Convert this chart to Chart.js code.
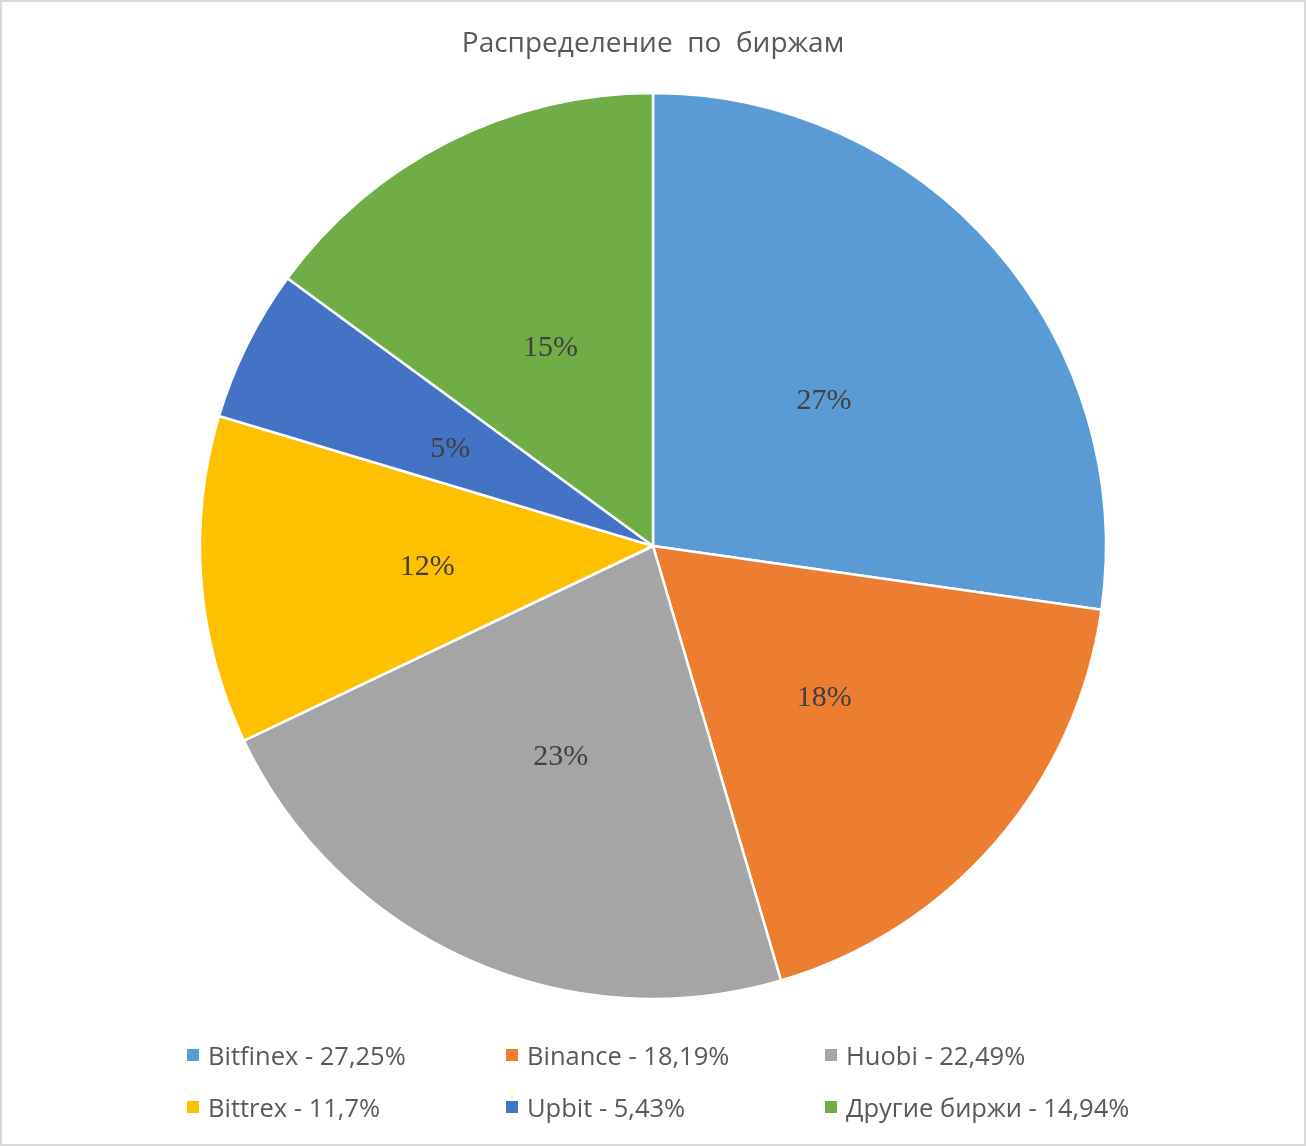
<!DOCTYPE html>
<html>
<head>
<meta charset="utf-8">
<script src="https://cdn.jsdelivr.net/npm/chart.js@4/dist/chart.umd.min.js"></script>
<style>
  html, body { margin: 0; padding: 0; background: #fff; }
  #wrap { position: relative; width: 1306px; height: 1146px; }
  #frame { position: absolute; left: 0; top: 0; width: 1306px; height: 1146px; box-sizing: border-box; border: 2px solid #d9d9d9; pointer-events: none; }
  #legend { position: absolute; left: 187px; top: 1029px; font-family: "Open Sans", sans-serif; font-size: 25.5px; color: #595959; }
  .row { display: flex; height: 52px; align-items: center; }
  .item { width: 319px; display: flex; align-items: center; white-space: nowrap; }
  .box { width: 12px; height: 12px; margin-right: 9px; flex: none; }
</style>
</head>
<body>
<div id="wrap">
  <canvas id="chart" width="1306" height="1146"></canvas>
  <div id="legend"></div>
  <div id="frame"></div>
</div>
<script>
const categories = ['Bitfinex - 27,25%', 'Binance - 18,19%', 'Huobi - 22,49%', 'Bittrex - 11,7%', 'Upbit - 5,43%', 'Другие биржи - 14,94%'];
const shares = [27.25, 18.19, 22.49, 11.7, 5.43, 14.94];
const pctLabels = ['27%', '18%', '23%', '12%', '5%', '15%'];
const colors = ['#5B9BD5', '#ED7D31', '#A5A5A5', '#FFC000', '#4472C4', '#70AD47'];

// percentage text in the middle of each slice
const sliceLabels = {
  id: 'sliceLabels',
  afterDatasetsDraw(chart) {
    const ctx = chart.ctx;
    const meta = chart.getDatasetMeta(0);
    ctx.save();
    ctx.font = '30px "Liberation Serif", serif';
    ctx.fillStyle = '#404040';
    ctx.textAlign = 'center';
    ctx.textBaseline = 'middle';
    meta.data.forEach((arc, i) => {
      const p = arc.tooltipPosition();
      ctx.fillText(pctLabels[i], p.x, p.y + 4);
    });
    ctx.restore();
  }
};

new Chart(document.getElementById('chart').getContext('2d'), {
  type: 'pie',
  data: {
    labels: categories,
    datasets: [{
      data: shares,
      backgroundColor: colors,
      borderColor: '#ffffff',
      borderWidth: 2.5
    }]
  },
  options: {
    responsive: false,
    animation: false,
    layout: { padding: { top: 0, bottom: 145.75, left: 0, right: 0 } },
    plugins: {
      legend: { display: false },
      tooltip: { enabled: false },
      title: {
        display: true,
        text: 'Распределение  по  биржам',
        color: '#595959',
        font: { family: '"Open Sans", sans-serif', size: 28, weight: 'normal' },
        padding: { top: 27, bottom: 31.15 }
      }
    }
  },
  plugins: [sliceLabels]
});

function buildLegend() {
  const el = document.getElementById('legend');
  let html = '';
  for (let r = 0; r < 2; r++) {
    html += '<div class="row">';
    for (let c = 0; c < 3; c++) {
      const i = r * 3 + c;
      html += `<div class="item"><span class="box" style="background:${colors[i]}"></span><span>${categories[i]}</span></div>`;
    }
    html += '</div>';
  }
  el.innerHTML = html;
}
buildLegend();
</script>
</body>
</html>
